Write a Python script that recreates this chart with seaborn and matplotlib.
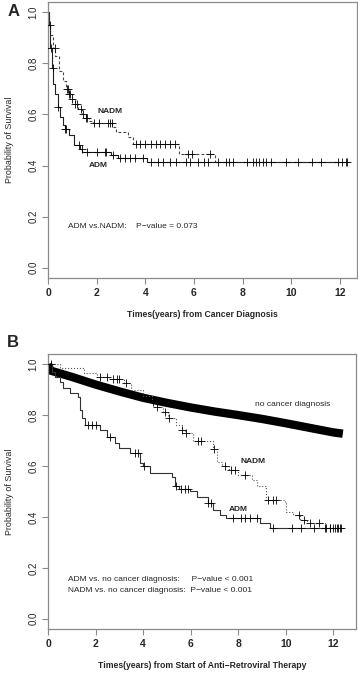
import numpy as np
import pandas as pd
import seaborn as sns
import matplotlib.pyplot as plt

# ---- Panel A: survival from cancer diagnosis ----
a_adm_t = [0, 0.03, 0.1, 0.15, 0.2, 0.3, 0.4, 0.5, 0.6, 0.7, 0.86, 1.07, 1.3, 1.4, 2.6, 2.87, 4.05]
a_adm_s = [1.0, 0.95, 0.86, 0.78, 0.72, 0.68, 0.63, 0.59, 0.56, 0.545, 0.52, 0.48, 0.465, 0.455, 0.44, 0.43, 0.415]
a_adm_end = 12.25
a_adm_cens = [0.11, 0.19, 0.4, 0.7, 0.75, 1.27, 1.38, 1.61, 2.0, 2.34, 2.4, 2.68, 2.95, 3.16, 3.36, 3.57, 3.9,
              4.25, 4.52, 4.73, 5.0, 5.27, 5.68, 5.82, 6.16, 6.43, 6.57, 7.32, 7.46, 7.6, 8.42, 8.55,
              8.96, 9.17, 10.87, 11.9, 12.24]

a_nadm_t = [0, 0.03, 0.1, 0.2, 0.3, 0.45, 0.6, 0.75, 0.85, 1.0, 1.1, 1.25, 1.4, 1.55, 1.7, 1.85, 2.65, 2.8, 3.3, 3.5, 5.4, 6.85]
a_nadm_s = [1.0, 0.95, 0.91, 0.86, 0.83, 0.77, 0.73, 0.70, 0.68, 0.66, 0.64, 0.62, 0.60, 0.585, 0.575, 0.565, 0.55, 0.53, 0.51, 0.485, 0.445, 0.415]
a_nadm_end = 12.3
a_nadm_cens = [0.08, 0.29, 0.8, 0.83, 0.86, 0.89, 1.0, 1.1, 1.2, 1.35, 1.45, 1.55, 1.6, 1.9, 2.1, 2.45, 2.55, 2.62,
               3.6, 3.8, 4.0, 4.25, 4.45, 4.6, 4.8, 5.0, 5.2, 5.75, 5.9, 6.67,
               7.0, 8.2, 8.69, 8.82, 9.78, 10.26, 11.22, 12.1, 12.3]

# ---- Panel B: survival from start of ART ----
b_none_t = [0, 0.1, 1, 2, 3, 4, 5, 6, 7, 8, 9, 10, 11, 12, 12.4]
b_none_s = [1.0, 0.975, 0.95, 0.92, 0.893, 0.868, 0.848, 0.83, 0.814, 0.8, 0.785, 0.768, 0.75, 0.732, 0.727]

b_nadm_t = [0, 0.5, 1.5, 2.05, 2.6, 3.2, 3.5, 4.0, 4.36, 4.57, 4.85, 5.06, 5.4, 5.62, 5.76, 6.1, 6.95, 7.09,
            7.3, 7.6, 8.0, 8.56, 8.8, 9.19, 9.96, 10.03, 10.3, 10.59, 10.9, 11.64]
b_nadm_s = [1.0, 0.985, 0.965, 0.95, 0.94, 0.925, 0.9, 0.875, 0.852, 0.833, 0.813, 0.787, 0.76, 0.741, 0.728,
            0.70, 0.667, 0.617, 0.6, 0.584, 0.565, 0.545, 0.52, 0.467, 0.455, 0.42, 0.408, 0.388, 0.375, 0.357]
b_nadm_end = 12.3
b_nadm_cens = [2.2, 2.5, 2.75, 2.9, 3.0, 3.3, 4.4, 4.6, 4.9, 5.1, 5.65, 5.8, 6.32, 6.45, 6.98, 7.44, 7.7,
               7.86, 8.3, 9.25, 9.47, 9.6, 10.55, 10.75, 11.0, 11.4, 11.7, 11.85, 12.0, 12.15, 12.3]

b_adm_t = [0, 0.15, 0.29, 0.5, 0.64, 0.92, 1.27, 1.34, 1.45, 1.55, 2.18, 2.47, 2.8, 3.0, 3.45, 3.87, 4.0,
           4.29, 5.2, 5.34, 5.5, 5.97, 6.25, 6.73, 6.95, 7.23, 7.5, 8.9, 9.33]
b_adm_s = [1.0, 0.97, 0.95, 0.93, 0.905, 0.885, 0.872, 0.82, 0.79, 0.76, 0.741, 0.715, 0.69, 0.67, 0.65, 0.61,
           0.6, 0.572, 0.558, 0.52, 0.51, 0.5, 0.48, 0.454, 0.427, 0.408, 0.395, 0.375, 0.356]
b_adm_end = 12.34
b_adm_cens = [0.12, 1.7, 1.85, 2.0, 2.6, 3.66, 3.8, 4.05, 5.4, 5.6, 5.75, 5.9, 6.75, 6.85, 7.8, 8.1, 8.3,
              8.5, 8.8, 9.47, 10.25, 10.66, 11.2, 11.64, 11.85, 12.06, 12.2, 12.34]

x_ticks = [0, 2, 4, 6, 8, 10, 12]
y_ticks = [0.0, 0.2, 0.4, 0.6, 0.8, 1.0]

sns.set_style("white")
plt.rcParams['font.family'] = ['Liberation Sans', 'DejaVu Sans']
FRAME = '#8a8a8a'
FS = 6.0


def km_curve(ax, times, surv, end, cens, ls, color, lw=0.8):
    # step curve with censoring marks
    df = pd.DataFrame({'t': list(times) + [end], 's': list(surv) + [surv[-1]]})
    sns.lineplot(data=df, x='t', y='s', drawstyle='steps-post', estimator=None, sort=False,
                 color=color, linestyle=ls, linewidth=lw, ax=ax)
    if cens:
        idx = np.searchsorted(times, cens, side='right') - 1
        cy = np.asarray(surv)[idx]
        sns.scatterplot(x=cens, y=cy, marker='+', s=28, color='black', linewidth=0.6, ax=ax, zorder=3)


def style_axes(ax, xmax, xlabel):
    ax.set_xlim(0, xmax)
    ax.set_ylim(-0.04, 1.04)
    ax.set_xticks(x_ticks)
    ax.set_yticks(y_ticks)
    ax.set_xticklabels([str(v) for v in x_ticks], fontweight='bold', fontsize=7.5)
    ax.set_yticklabels(['%.1f' % v for v in y_ticks], rotation=90, va='center', fontsize=7)
    ax.tick_params(axis='both', direction='out', length=4, width=0.8, color=FRAME, pad=3,
                   bottom=True, left=True)
    for sp in ax.spines.values():
        sp.set_color(FRAME)
        sp.set_linewidth(0.9)
    ax.set_xlabel(xlabel, fontsize=6.2, fontweight='bold', labelpad=9)
    ax.set_ylabel('Probability of Survival', fontsize=6.4, labelpad=10)


fig = plt.figure(figsize=(3.58, 6.74), dpi=100)
axA = fig.add_axes([0.1341, 0.5875, 0.863, 0.4095])
axB = fig.add_axes([0.1341, 0.0668, 0.860, 0.408])

# Panel A
km_curve(axA, a_nadm_t, a_nadm_s, a_nadm_end, a_nadm_cens, (0, (2.5, 2)), '#444444')
km_curve(axA, a_adm_t, a_adm_s, a_adm_end, a_adm_cens, '-', '#222222')
style_axes(axA, 12.7, 'Times(years) from Cancer Diagnosis')
axA.text(2.54, 0.61, 'NADM', fontsize=FS, fontweight='bold', ha='center', va='center')
axA.text(2.06, 0.40, 'ADM', fontsize=FS, fontweight='bold', ha='center', va='center')
axA.text(0.83, 0.16, 'ADM vs.NADM:    P\u2212value = 0.073', fontsize=FS, ha='left', va='center')

# Panel B
none_df = pd.DataFrame({'t': b_none_t, 's': b_none_s})
sns.lineplot(data=none_df, x='t', y='s', estimator=None, sort=False, color='black',
             linewidth=6.0, solid_capstyle='butt', ax=axB)
km_curve(axB, b_nadm_t, b_nadm_s, b_nadm_end, b_nadm_cens, ':', '#555555')
km_curve(axB, b_adm_t, b_adm_s, b_adm_end, b_adm_cens, '-', '#333333')
style_axes(axB, 12.95, 'Times(years) from Start of Anti\u2212Retroviral Therapy')
axB.text(10.28, 0.84, 'no cancer diagnosis', fontsize=FS, ha='center', va='center')
axB.text(8.63, 0.617, 'NADM', fontsize=FS, fontweight='bold', ha='center', va='center')
axB.text(8.0, 0.43, 'ADM', fontsize=FS, fontweight='bold', ha='center', va='center')
axB.text(0.85, 0.156, 'ADM vs. no cancer diagnosis:     P\u2212value < 0.001', fontsize=FS, ha='left', va='center')
axB.text(0.85, 0.111, 'NADM vs. no cancer diagnosis:  P\u2212value < 0.001', fontsize=FS, ha='left', va='center')

fig.text(0.022, 0.983, 'A', fontsize=12, fontweight='bold', ha='left', va='center')
fig.text(0.02, 0.492, 'B', fontsize=12, fontweight='bold', ha='left', va='center')

fig.savefig('out.png', dpi=100)
